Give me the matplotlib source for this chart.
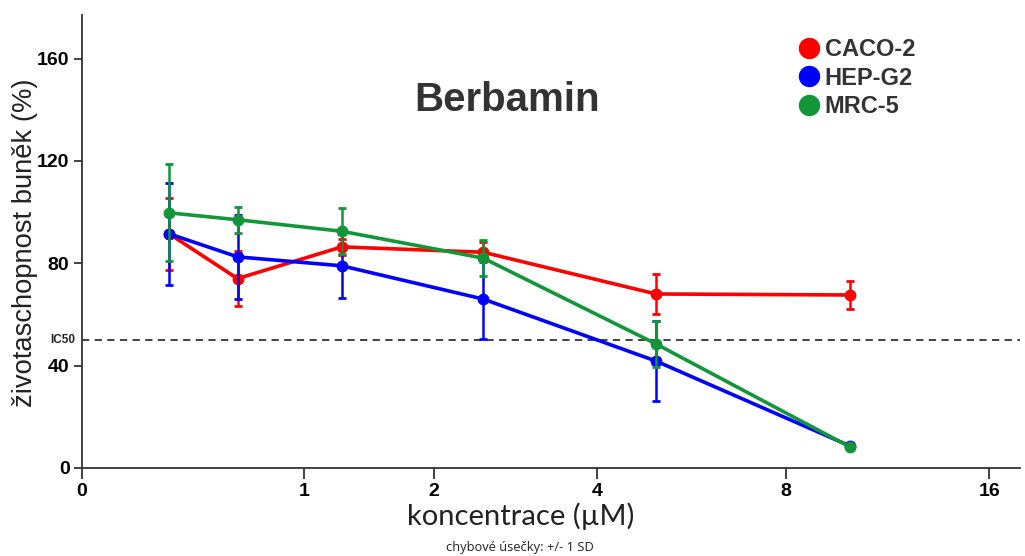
import numpy as np
import matplotlib
matplotlib.use("Agg")
import matplotlib.pyplot as plt
from matplotlib.lines import Line2D

# ---- data ----
conc = [0.3125, 0.625, 1.25, 2.5, 5, 10]
caco2 = [91.5, 74, 86.4, 84.3, 68, 67.6]
caco2_sd = [14, 10.7, 3, 4, 7.8, 5.5]
hepg2 = [91.5, 82.5, 79, 66, 41.8, 8.6]
hepg2_sd = [20, 16.5, 12.5, 15.7, 15.5, 1]
mrc5 = [99.7, 97, 92.5, 82, 48.5, 8.2]
mrc5_sd = [19, 5, 9, 7, 9, 0.5]
series_names = ["CACO-2", "HEP-G2", "MRC-5"]
xticks = [0, 1, 2, 4, 8, 16]
yticks = [0, 40, 80, 120, 160]
ic50 = 50

colors = ["#FF0000", "#0000FF", "#139639"]
plt.rcParams['font.family'] = ['Liberation Sans', 'DejaVu Sans']

W, H = 1025, 556
fig = plt.figure(figsize=(W / 100, H / 100), dpi=100)
ax = fig.add_axes([82 / W, (H - 468) / H, (1020 - 82) / W, (468 - 15) / H])

ax.set_xscale('function', functions=(lambda x: np.log2(np.maximum(x + 1, 1e-9)),
                                     lambda y: 2 ** y - 1))
ax.set_xlim(0, 17.7)
ax.set_ylim(0, 177)

for vals, sd, col, z in [(caco2, caco2_sd, colors[0], 3),
                         (hepg2, hepg2_sd, colors[1], 4),
                         (mrc5, mrc5_sd, colors[2], 5)]:
    ax.errorbar(conc, vals, yerr=sd, color=col, lw=2.6, marker='o', ms=7.5,
                elinewidth=1.8, capsize=3, capthick=2, zorder=z)

ax.axhline(ic50, color='#333333', lw=1.3, ls=(0, (4, 3)), zorder=2)
ax.text(-0.007, ic50, "IC50", transform=ax.get_yaxis_transform(), ha='right',
        va='center', fontsize=8.5, fontweight='bold', color='#222222')

for s in ['top', 'right']:
    ax.spines[s].set_visible(False)
for s in ['left', 'bottom']:
    ax.spines[s].set_color('#333333')
    ax.spines[s].set_linewidth(1.3)

ax.set_xticks(xticks)
ax.set_xticklabels([str(t) for t in xticks])
ax.set_yticks(yticks)
ax.tick_params(axis='both', direction='out', length=6, width=1.3, color='#333333',
               labelsize=14, pad=3)
ax.tick_params(axis='x', length=8)
for lab in ax.get_xticklabels() + ax.get_yticklabels():
    lab.set_fontweight('bold')

ax.set_xlabel("koncentrace (µM)", fontsize=21, color='#222222',
              family=['Lato', 'DejaVu Sans'])
ax.xaxis.set_label_coords((521 - 82) / 938, -0.076)
ax.set_ylabel("životaschopnost buněk (%)", fontsize=19.7, color='#222222')
ax.yaxis.set_label_coords(-0.047, 0.497)

fig.text(507 / W, 1 - 100 / H, "Berbamin", ha='center', va='center',
         fontsize=29, fontweight='bold', color='#333333')

handles = [Line2D([], [], color=c, marker='o', ls='none', ms=14.4) for c in colors]
leg = fig.legend(handles, series_names, loc='upper left',
                 bbox_to_anchor=(800 / W, 1 - 38 / H), frameon=False,
                 handlelength=0.8, handletextpad=0.25, labelspacing=0.24,
                 borderpad=0, borderaxespad=0,
                 prop={'size': 17, 'weight': 'bold'})
for t in leg.get_texts():
    t.set_color('#333333')

fig.text(520 / W, 1 - 548 / H, "chybové úsečky: +/- 1 SD", ha='center', va='center',
         fontsize=9.3, family=['Open Sans', 'DejaVu Sans'], color='#222222')

fig.savefig("out.png", dpi=100)
